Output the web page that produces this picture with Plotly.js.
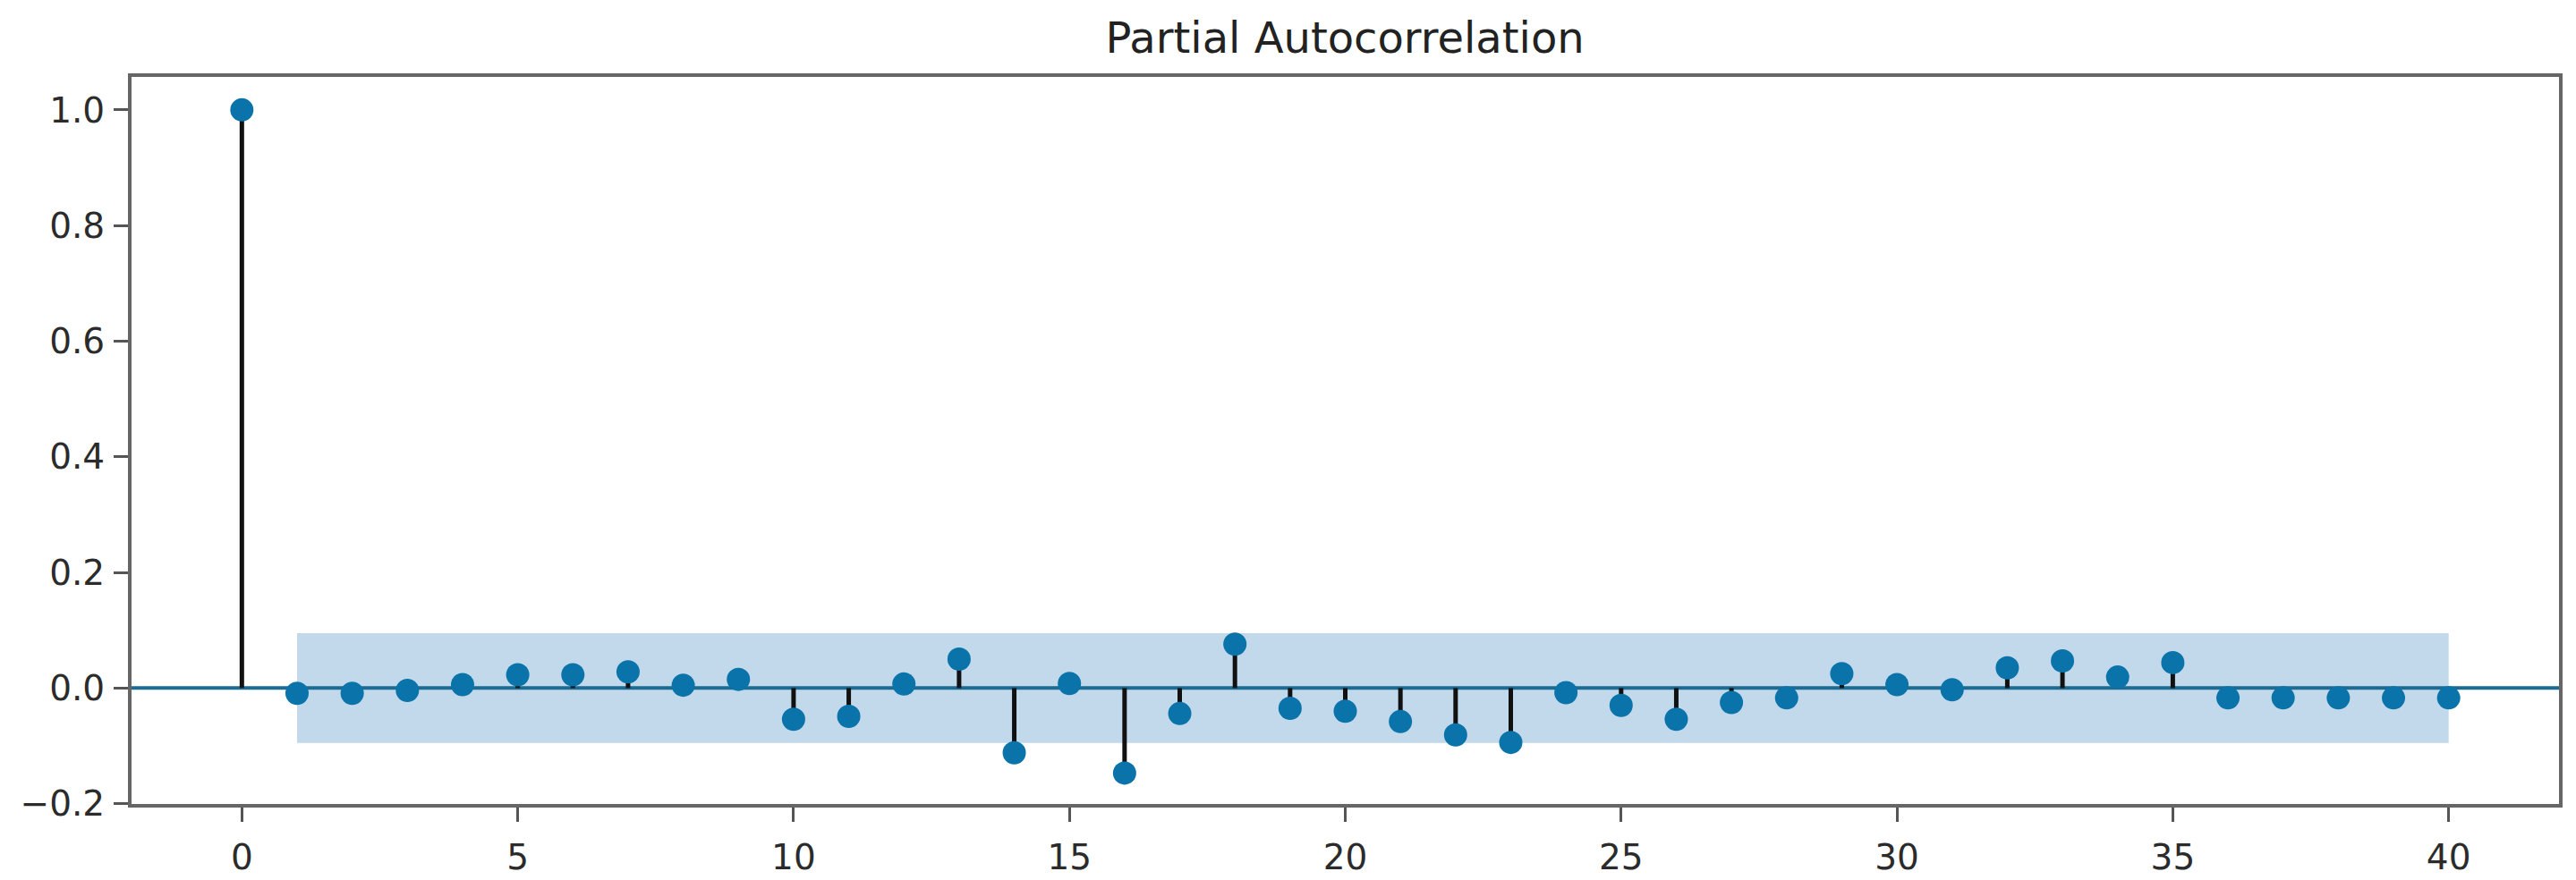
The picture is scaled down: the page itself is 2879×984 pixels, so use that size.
<!DOCTYPE html>
<html>
<head>
<meta charset="utf-8">
<script src="https://cdn.plot.ly/plotly-3.0.1.min.js"></script>
<style>
html,body{margin:0;padding:0;background:#fff;}
#chart{width:2879px;height:984px;}
</style>
</head>
<body>
<div id="chart"></div>
<script>
// Lags and partial autocorrelation values
const lags = [0,1,2,3,4,5,6,7,8,9,10,11,12,13,14,15,16,17,18,19,20,21,22,23,24,25,26,27,28,29,30,31,32,33,34,35,36,37,38,39,40];
const pacf = [1.0,-0.009,-0.009,-0.004,0.006,0.023,0.023,0.028,0.005,0.015,-0.054,-0.049,0.007,0.050,-0.112,0.008,-0.147,-0.044,0.076,-0.035,-0.040,-0.058,-0.081,-0.094,-0.008,-0.030,-0.054,-0.025,-0.017,0.025,0.006,-0.003,0.035,0.047,0.019,0.044,-0.017,-0.017,-0.017,-0.017,-0.017];
// Confidence band (constant for PACF), spanning lags 1..40
const confUpper = 0.095;
const confLower = -0.095;
const xTicks = [0,5,10,15,20,25,30,35,40];
const yTicks = [-0.2,0.0,0.2,0.4,0.6,0.8,1.0];
const xRange = [-2, 42];
const yRange = [-0.2005, 1.057];

// band polygon built from the lags (excluding lag 0)
const bandLags = lags.slice(1);
const bandX = bandLags.concat(bandLags.slice().reverse());
const bandY = bandLags.map(() => confUpper).concat(bandLags.map(() => confLower));

// stems
const stemX = [], stemY = [];
lags.forEach((l, i) => { stemX.push(l, l, null); stemY.push(0, pacf[i], null); });

const blue = '#0a73aa';
const traces = [
  {x: bandX, y: bandY, type: 'scatter', mode: 'lines', fill: 'toself',
   fillcolor: 'rgba(31,119,180,0.28)', line: {width: 0}, hoverinfo: 'skip', showlegend: false},
  {x: xRange, y: [0, 0], type: 'scatter', mode: 'lines',
   line: {color: '#1c6b93', width: 4}, hoverinfo: 'skip', showlegend: false},
  {x: stemX, y: stemY, type: 'scatter', mode: 'lines',
   line: {color: '#111111', width: 5}, hoverinfo: 'skip', showlegend: false},
  {x: lags, y: pacf, type: 'scatter', mode: 'markers',
   marker: {color: blue, size: 26}, showlegend: false}
];

const axisCommon = {
  showline: true, mirror: true, linecolor: '#666666', linewidth: 4,
  showgrid: false, zeroline: false,
  ticks: 'outside', ticklen: 16, tickwidth: 3, tickcolor: '#555555',
  tickfont: {family: 'DejaVu Sans', size: 39, color: '#2b2b2b'}
};

const layout = {
  width: 2879, height: 984,
  paper_bgcolor: '#ffffff', plot_bgcolor: '#ffffff',
  margin: {l: 147, r: 19, t: 86, b: 85},
  title: {text: 'Partial Autocorrelation', x: 0.5221, xanchor: 'center',
          y: 1 - 42/984, yanchor: 'middle', yref: 'container',
          font: {family: 'DejaVu Sans', size: 48, color: '#222222'}},
  xaxis: Object.assign({}, axisCommon, {range: xRange, tickmode: 'array', tickvals: xTicks,
          ticktext: xTicks.map(String), ticklabelstandoff: 6}),
  yaxis: Object.assign({}, axisCommon, {range: yRange, tickmode: 'array', tickvals: yTicks,
          ticktext: yTicks.map(v => (v < 0 ? '\u2212' : '') + Math.abs(v).toFixed(1)), ticklabelstandoff: 2}),
  showlegend: false
};

Plotly.newPlot('chart', traces, layout, {displayModeBar: false, staticPlot: true});
</script>
</body>
</html>
